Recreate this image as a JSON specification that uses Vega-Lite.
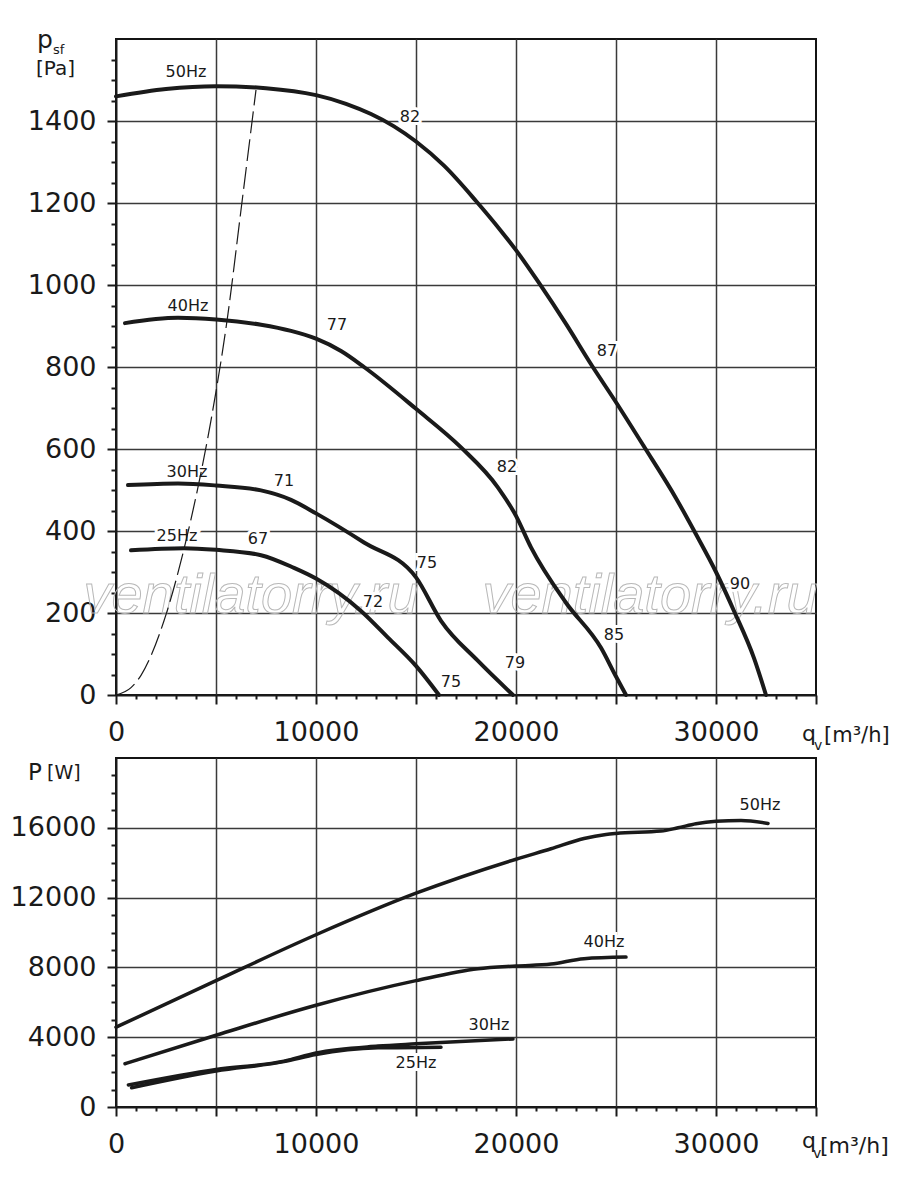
{
  "$schema": "https://vega.github.io/schema/vega-lite/v6.json",
  "background": "white",
  "padding": {"left": 9, "top": 27, "right": 5, "bottom": 5},
  "bounds": "flush",
  "spacing": 63,
  "datasets": {
    "pressure": [
      {"f": "50Hz", "q": 0, "p": 1460}, {"f": "50Hz", "q": 2500, "p": 1478}, {"f": "50Hz", "q": 5000, "p": 1485},
      {"f": "50Hz", "q": 7500, "p": 1480}, {"f": "50Hz", "q": 10000, "p": 1463}, {"f": "50Hz", "q": 11500, "p": 1442},
      {"f": "50Hz", "q": 12750, "p": 1417}, {"f": "50Hz", "q": 13900, "p": 1387}, {"f": "50Hz", "q": 15000, "p": 1350},
      {"f": "50Hz", "q": 16400, "p": 1291}, {"f": "50Hz", "q": 18000, "p": 1205}, {"f": "50Hz", "q": 19250, "p": 1132},
      {"f": "50Hz", "q": 20000, "p": 1085}, {"f": "50Hz", "q": 21150, "p": 1005}, {"f": "50Hz", "q": 22500, "p": 905},
      {"f": "50Hz", "q": 23800, "p": 803}, {"f": "50Hz", "q": 25000, "p": 714}, {"f": "50Hz", "q": 26400, "p": 606},
      {"f": "50Hz", "q": 28000, "p": 480}, {"f": "50Hz", "q": 29000, "p": 392}, {"f": "50Hz", "q": 30000, "p": 300},
      {"f": "50Hz", "q": 30900, "p": 205}, {"f": "50Hz", "q": 31900, "p": 90}, {"f": "50Hz", "q": 32500, "p": 0},
      {"f": "40Hz", "q": 450, "p": 907}, {"f": "40Hz", "q": 3100, "p": 920}, {"f": "40Hz", "q": 5000, "p": 916},
      {"f": "40Hz", "q": 7250, "p": 903}, {"f": "40Hz", "q": 8750, "p": 888}, {"f": "40Hz", "q": 10000, "p": 869},
      {"f": "40Hz", "q": 11250, "p": 839}, {"f": "40Hz", "q": 12400, "p": 800}, {"f": "40Hz", "q": 15000, "p": 698},
      {"f": "40Hz", "q": 17250, "p": 604}, {"f": "40Hz", "q": 19100, "p": 506}, {"f": "40Hz", "q": 20000, "p": 437},
      {"f": "40Hz", "q": 20750, "p": 360}, {"f": "40Hz", "q": 22500, "p": 225}, {"f": "40Hz", "q": 24250, "p": 115},
      {"f": "40Hz", "q": 25000, "p": 45}, {"f": "40Hz", "q": 25500, "p": 0},
      {"f": "30Hz", "q": 600, "p": 512}, {"f": "30Hz", "q": 3100, "p": 516}, {"f": "30Hz", "q": 5000, "p": 511},
      {"f": "30Hz", "q": 7250, "p": 499}, {"f": "30Hz", "q": 8750, "p": 476}, {"f": "30Hz", "q": 10000, "p": 443},
      {"f": "30Hz", "q": 12400, "p": 372}, {"f": "30Hz", "q": 15000, "p": 287}, {"f": "30Hz", "q": 16250, "p": 181},
      {"f": "30Hz", "q": 18100, "p": 83}, {"f": "30Hz", "q": 19850, "p": 0},
      {"f": "25Hz", "q": 750, "p": 353}, {"f": "25Hz", "q": 3400, "p": 358}, {"f": "25Hz", "q": 5000, "p": 354},
      {"f": "25Hz", "q": 7250, "p": 341}, {"f": "25Hz", "q": 8900, "p": 310}, {"f": "25Hz", "q": 10000, "p": 284},
      {"f": "25Hz", "q": 12250, "p": 205}, {"f": "25Hz", "q": 13600, "p": 140}, {"f": "25Hz", "q": 15000, "p": 71},
      {"f": "25Hz", "q": 16150, "p": 0}
    ],
    "limit": [
      {"q": 0, "p": 0}, {"q": 750, "p": 18}, {"q": 1250, "p": 48}, {"q": 2400, "p": 181}, {"q": 3400, "p": 356},
      {"q": 4100, "p": 507}, {"q": 4750, "p": 670}, {"q": 5600, "p": 930}, {"q": 6250, "p": 1183}, {"q": 7000, "p": 1476}
    ],
    "pressureLabels": [
      {"q": 3500, "p": 1520, "t": "50Hz"}, {"q": 3600, "p": 948, "t": "40Hz"}, {"q": 3550, "p": 545, "t": "30Hz"},
      {"q": 3050, "p": 388, "t": "25Hz"}, {"q": 14700, "p": 1410, "t": "82"}, {"q": 24550, "p": 838, "t": "87"},
      {"q": 31200, "p": 271, "t": "90"}, {"q": 11050, "p": 902, "t": "77"}, {"q": 19550, "p": 555, "t": "82"},
      {"q": 24900, "p": 147, "t": "85"}, {"q": 8400, "p": 523, "t": "71"}, {"q": 15550, "p": 322, "t": "75"},
      {"q": 19950, "p": 78, "t": "79"}, {"q": 7100, "p": 381, "t": "67"}, {"q": 12850, "p": 227, "t": "72"},
      {"q": 16750, "p": 32, "t": "75"}
    ],
    "watermark": [
      {"q": 6750, "p": 200, "t": "ventilatorry.ru"}, {"q": 26700, "p": 200, "t": "ventilatorry.ru"}
    ],
    "power": [
      {"f": "50Hz", "q": 0, "P": 4570}, {"f": "50Hz", "q": 5000, "P": 7240}, {"f": "50Hz", "q": 10000, "P": 9870},
      {"f": "50Hz", "q": 15000, "P": 12250}, {"f": "50Hz", "q": 20000, "P": 14200}, {"f": "50Hz", "q": 21750, "P": 14800},
      {"f": "50Hz", "q": 23400, "P": 15390}, {"f": "50Hz", "q": 24500, "P": 15620}, {"f": "50Hz", "q": 25000, "P": 15680},
      {"f": "50Hz", "q": 27250, "P": 15810}, {"f": "50Hz", "q": 28100, "P": 16000}, {"f": "50Hz", "q": 29000, "P": 16230},
      {"f": "50Hz", "q": 30000, "P": 16370}, {"f": "50Hz", "q": 31250, "P": 16420}, {"f": "50Hz", "q": 32600, "P": 16250},
      {"f": "40Hz", "q": 450, "P": 2480}, {"f": "40Hz", "q": 5000, "P": 4110}, {"f": "40Hz", "q": 10000, "P": 5830},
      {"f": "40Hz", "q": 15000, "P": 7240}, {"f": "40Hz", "q": 18100, "P": 7920}, {"f": "40Hz", "q": 20000, "P": 8080},
      {"f": "40Hz", "q": 21750, "P": 8190}, {"f": "40Hz", "q": 23400, "P": 8500}, {"f": "40Hz", "q": 25500, "P": 8590},
      {"f": "30Hz", "q": 620, "P": 1260}, {"f": "30Hz", "q": 5000, "P": 2150}, {"f": "30Hz", "q": 8400, "P": 2630},
      {"f": "30Hz", "q": 10000, "P": 3100}, {"f": "30Hz", "q": 13100, "P": 3490}, {"f": "30Hz", "q": 15000, "P": 3620},
      {"f": "30Hz", "q": 19850, "P": 3900},
      {"f": "25Hz", "q": 780, "P": 1100}, {"f": "25Hz", "q": 5000, "P": 2060}, {"f": "25Hz", "q": 8400, "P": 2600},
      {"f": "25Hz", "q": 10000, "P": 3010}, {"f": "25Hz", "q": 13100, "P": 3390}, {"f": "25Hz", "q": 16250, "P": 3430}
    ],
    "powerLabels": [
      {"q": 32200, "P": 17310, "t": "50Hz"}, {"q": 24400, "P": 9430, "t": "40Hz"},
      {"q": 18650, "P": 4690, "t": "30Hz"}, {"q": 15000, "P": 2510, "t": "25Hz"}
    ]
  },
  "vconcat": [
    {
      "width": 700,
      "height": 656,
      "layer": [
        {
          "encoding": {
            "x": {
              "field": "q", "type": "quantitative",
              "scale": {"domain": [0, 35000], "nice": false},
              "axis": {
                "title": null, "format": "d", "grid": true, "tickCount": 100,
                "values": [0,1000,2000,3000,4000,5000,6000,7000,8000,9000,10000,11000,12000,13000,14000,15000,16000,17000,18000,19000,20000,21000,22000,23000,24000,25000,26000,27000,28000,29000,30000,31000,32000,33000,34000,35000],
                "labelExpr": "datum.value % 10000 === 0 ? datum.label : ''",
                "tickSize": {"condition": {"test": "datum.value % 5000 === 0", "value": 9}, "value": 4},
                "gridOpacity": {"condition": {"test": "datum.value % 5000 === 0 && datum.value > 0 && datum.value < 35000", "value": 1}, "value": 0},
                "labelPadding": 15, "labelFlush": false, "labelOverlap": false, "labelBound": false
              }
            },
            "y": {
              "field": "p", "type": "quantitative",
              "scale": {"domain": [0, 1600], "nice": false},
              "axis": {
                "title": null, "format": "d", "grid": true, "tickCount": 100,
                "values": [0,50,100,150,200,250,300,350,400,450,500,550,600,650,700,750,800,850,900,950,1000,1050,1100,1150,1200,1250,1300,1350,1400,1450,1500,1550],
                "labelExpr": "datum.value % 200 === 0 ? datum.label : ''",
                "tickSize": {"condition": {"test": "datum.value % 200 === 0", "value": 9}, "value": 5},
                "gridOpacity": {"condition": {"test": "datum.value % 200 === 0 && datum.value > 0 && datum.value < 1600", "value": 1}, "value": 0},
                "labelPadding": 11, "labelOverlap": false, "labelBound": false
              }
            }
          },
          "layer": [
            {
              "data": {"name": "watermark"},
              "mark": {"type": "text", "font": "Liberation Sans", "fontStyle": "italic", "fontSize": 56, "fillOpacity": 0, "stroke": "#b8b8b8", "strokeWidth": 1, "align": "center", "baseline": "alphabetic"},
              "encoding": {"text": {"field": "t"}}
            },
            {
              "data": {"name": "pressureLabels"},
              "mark": {"type": "text", "fontSize": 16, "fill": "white", "stroke": "white", "strokeWidth": 6, "align": "center", "baseline": "middle"},
              "encoding": {"text": {"field": "t"}}
            },
            {
              "data": {"name": "limit"},
              "mark": {"type": "line", "strokeWidth": 1.2, "strokeDash": [22, 6], "interpolate": "monotone"},
              "encoding": {}
            },
            {
              "data": {"name": "pressure"},
              "mark": {"type": "line", "strokeWidth": 4, "interpolate": "monotone", "strokeCap": "round"},
              "encoding": {"detail": {"field": "f"}}
            },
            {
              "data": {"name": "pressureLabels"},
              "mark": {"type": "text", "fontSize": 16, "align": "center", "baseline": "middle"},
              "encoding": {"text": {"field": "t"}}
            }
          ]
        },
        {
          "data": {"values": [{}]},
          "mark": {"type": "text", "text": "p", "fontSize": 25, "align": "left", "baseline": "alphabetic", "dx": -79, "dy": 9},
          "encoding": {"x": {"datum": 0, "type": "quantitative"}, "y": {"datum": 1600, "type": "quantitative"}}
        },
        {
          "data": {"values": [{}]},
          "mark": {"type": "text", "text": "sf", "fontSize": 13, "align": "left", "baseline": "alphabetic", "dx": -63, "dy": 15},
          "encoding": {"x": {"datum": 0, "type": "quantitative"}, "y": {"datum": 1600, "type": "quantitative"}}
        },
        {
          "data": {"values": [{}]},
          "mark": {"type": "text", "text": "[Pa]", "fontSize": 20, "align": "left", "baseline": "alphabetic", "dx": -80, "dy": 36},
          "encoding": {"x": {"datum": 0, "type": "quantitative"}, "y": {"datum": 1600, "type": "quantitative"}}
        },
        {
          "data": {"values": [{}]},
          "mark": {"type": "text", "text": "q", "fontSize": 22, "align": "left", "baseline": "alphabetic", "dx": -14, "dy": 46},
          "encoding": {"x": {"datum": 35000, "type": "quantitative"}, "y": {"datum": 0, "type": "quantitative"}}
        },
        {
          "data": {"values": [{}]},
          "mark": {"type": "text", "text": "v", "fontSize": 14, "align": "left", "baseline": "alphabetic", "dx": -2, "dy": 55},
          "encoding": {"x": {"datum": 35000, "type": "quantitative"}, "y": {"datum": 0, "type": "quantitative"}}
        },
        {
          "data": {"values": [{}]},
          "mark": {"type": "text", "text": "[m³/h]", "fontSize": 21, "align": "left", "baseline": "alphabetic", "dx": 8, "dy": 47},
          "encoding": {"x": {"datum": 35000, "type": "quantitative"}, "y": {"datum": 0, "type": "quantitative"}}
        }
      ]
    },
    {
      "width": 700,
      "height": 349,
      "layer": [
        {
          "encoding": {
            "x": {
              "field": "q", "type": "quantitative",
              "scale": {"domain": [0, 35000], "nice": false},
              "axis": {
                "title": null, "format": "d", "grid": true, "tickCount": 100,
                "values": [0,1000,2000,3000,4000,5000,6000,7000,8000,9000,10000,11000,12000,13000,14000,15000,16000,17000,18000,19000,20000,21000,22000,23000,24000,25000,26000,27000,28000,29000,30000,31000,32000,33000,34000,35000],
                "labelExpr": "datum.value % 10000 === 0 ? datum.label : ''",
                "tickSize": {"condition": {"test": "datum.value % 5000 === 0", "value": 9}, "value": 4},
                "gridOpacity": {"condition": {"test": "datum.value % 5000 === 0 && datum.value > 0 && datum.value < 35000", "value": 1}, "value": 0},
                "labelPadding": 15, "labelFlush": false, "labelOverlap": false, "labelBound": false
              }
            },
            "y": {
              "field": "P", "type": "quantitative",
              "scale": {"domain": [0, 20000], "nice": false},
              "axis": {
                "title": null, "format": "d", "grid": true, "tickCount": 100,
                "values": [0,1000,2000,3000,4000,5000,6000,7000,8000,9000,10000,11000,12000,13000,14000,15000,16000,17000,18000,19000],
                "labelExpr": "datum.value % 4000 === 0 ? datum.label : ''",
                "tickSize": {"condition": {"test": "datum.value % 4000 === 0", "value": 9}, "value": 5},
                "gridOpacity": {"condition": {"test": "datum.value % 4000 === 0 && datum.value > 0 && datum.value < 20000", "value": 1}, "value": 0},
                "labelPadding": 11, "labelOverlap": false, "labelBound": false
              }
            }
          },
          "layer": [
            {
              "data": {"name": "powerLabels"},
              "mark": {"type": "text", "fontSize": 16, "fill": "white", "stroke": "white", "strokeWidth": 6, "align": "center", "baseline": "middle"},
              "encoding": {"text": {"field": "t"}}
            },
            {
              "data": {"name": "power"},
              "mark": {"type": "line", "strokeWidth": 3.5, "interpolate": "monotone", "strokeCap": "round"},
              "encoding": {"detail": {"field": "f"}}
            },
            {
              "data": {"name": "powerLabels"},
              "mark": {"type": "text", "fontSize": 16, "align": "center", "baseline": "middle"},
              "encoding": {"text": {"field": "t"}}
            }
          ]
        },
        {
          "data": {"values": [{}]},
          "mark": {"type": "text", "text": "P", "fontSize": 23, "align": "left", "baseline": "alphabetic", "dx": -88, "dy": 22},
          "encoding": {"x": {"datum": 0, "type": "quantitative"}, "y": {"datum": 20000, "type": "quantitative"}}
        },
        {
          "data": {"values": [{}]},
          "mark": {"type": "text", "text": "[W]", "fontSize": 19, "align": "left", "baseline": "alphabetic", "dx": -69, "dy": 21},
          "encoding": {"x": {"datum": 0, "type": "quantitative"}, "y": {"datum": 20000, "type": "quantitative"}}
        },
        {
          "data": {"values": [{}]},
          "mark": {"type": "text", "text": "q", "fontSize": 22, "align": "left", "baseline": "alphabetic", "dx": -14, "dy": 41},
          "encoding": {"x": {"datum": 35000, "type": "quantitative"}, "y": {"datum": 0, "type": "quantitative"}}
        },
        {
          "data": {"values": [{}]},
          "mark": {"type": "text", "text": "v", "fontSize": 14, "align": "left", "baseline": "alphabetic", "dx": -3, "dy": 51},
          "encoding": {"x": {"datum": 35000, "type": "quantitative"}, "y": {"datum": 0, "type": "quantitative"}}
        },
        {
          "data": {"values": [{}]},
          "mark": {"type": "text", "text": "[m³/h]", "fontSize": 22, "align": "left", "baseline": "alphabetic", "dx": 4, "dy": 46},
          "encoding": {"x": {"datum": 35000, "type": "quantitative"}, "y": {"datum": 0, "type": "quantitative"}}
        }
      ]
    }
  ],
  "config": {
    "view": {"stroke": "#141414", "strokeWidth": 2},
    "axis": {
      "labelFont": "DejaVu Sans", "labelFontSize": 27, "labelColor": "#1a1a1a",
      "tickColor": "#1a1a1a", "tickWidth": 2,
      "domainColor": "#1a1a1a", "domainWidth": 2,
      "gridColor": "#3a3a3a", "gridWidth": 1.5
    },
    "text": {"font": "DejaVu Sans", "color": "#1a1a1a"},
    "line": {"color": "#1a1a1a"}
  }
}
